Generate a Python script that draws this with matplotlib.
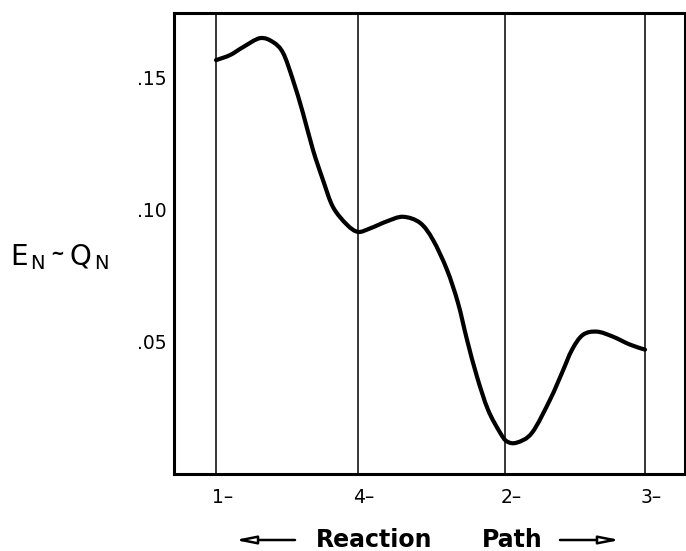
import numpy as np
import matplotlib
matplotlib.use("Agg")
import matplotlib.pyplot as plt
from matplotlib.path import Path
from matplotlib.patches import PathPatch, FancyArrowPatch

# energy curve (x in reaction-path units, 1- at 0, 3- at 3)
path_x = [0.0, 0.098, 0.189, 0.308, 0.399, 0.469, 0.538, 0.608, 0.678, 0.748,
          0.818, 0.916, 0.993, 1.077, 1.196, 1.308, 1.427, 1.517, 1.615, 1.692,
          1.755, 1.825, 1.902, 1.986, 2.035, 2.105, 2.210, 2.336, 2.420,
          2.490, 2.566, 2.664, 2.776, 2.895, 3.0]
energy = [0.1564, 0.1583, 0.1613, 0.1647, 0.1632, 0.1591, 0.1489, 0.1364, 0.1225, 0.1111,
          0.1009, 0.0942, 0.0915, 0.0928, 0.0955, 0.0972, 0.0949, 0.0885, 0.0772, 0.0647,
          0.0508, 0.0368, 0.0243, 0.0157, 0.0123, 0.0119, 0.0156, 0.0281, 0.0383,
          0.0470, 0.0526, 0.0538, 0.0519, 0.0489, 0.0470]

# configurations marked along the path
station_x = [0.0, 0.99, 2.02, 3.0]
station_labels = ["1\u2013", "4\u2013", "2\u2013", "3\u2013"]

ytick_vals = [0.05, 0.10, 0.15]
ytick_labels = [".05", ".10", ".15"]

plt.rcParams["font.family"] = "DejaVu Sans"
plt.rcParams["mathtext.fontset"] = "dejavusans"


def smooth_path(xs, ys):
    # Catmull-Rom through the read points, drawn as cubic Bezier segments
    p = np.column_stack([xs, ys])
    ext = np.vstack([p[0], p, p[-1]])
    verts = [p[0]]
    codes = [Path.MOVETO]
    for i in range(1, len(ext) - 2):
        c1 = ext[i] + (ext[i + 1] - ext[i - 1]) / 6
        c2 = ext[i + 1] - (ext[i + 2] - ext[i]) / 6
        verts += [c1, c2, ext[i + 1]]
        codes += [Path.CURVE4] * 3
    return Path(verts, codes)


fig = plt.figure(figsize=(6.86, 5.51), dpi=100)
ax = fig.add_axes([0.2536, 0.1397, 0.745, 0.8367])

for sx in station_x:
    ax.axvline(sx, color="black", lw=1.1)
ax.add_patch(PathPatch(smooth_path(path_x, energy), fill=False, ec="black",
                       lw=3.0, capstyle="round", joinstyle="round"))

ax.set_xlim(-0.294, 3.28)
ax.set_ylim(0, 0.1742)
for s in ax.spines.values():
    s.set_linewidth(2.2)

ax.set_xticks([])
ax.set_yticks(ytick_vals)
ax.set_yticklabels(ytick_labels, fontsize=13.5)
ax.tick_params(axis="y", length=0, pad=5)

for sx, lab in zip(station_x, station_labels):
    ax.annotate(lab, xy=(sx, 0), xycoords=("data", "axes fraction"),
                xytext=(-3, -21), textcoords="offset points",
                ha="left", va="baseline", fontsize=13.5)

# y-axis label, pieced together to keep the wide spacing
W, H = 686, 551
fig.text(10 / W, 1 - 265 / H, r"E$_{\,\mathrm{N}}$", fontsize=20, ha="left", va="baseline")
fig.text(50 / W, 1 - 259 / H, "~", fontsize=12, ha="left", va="baseline", fontweight="bold")
fig.text(69 / W, 1 - 265 / H, r"Q$_{\,\mathrm{N}}$", fontsize=20, ha="left", va="baseline")

# x-axis label with arrows
fig.text(374 / W, 1 - 547 / H, "Reaction", fontsize=17, fontweight="bold",
         ha="center", va="baseline")
fig.text(512 / W, 1 - 547 / H, "Path", fontsize=17, fontweight="bold",
         ha="center", va="baseline")
arrow = dict(arrowstyle="-|>,head_length=1.0,head_width=0.2", lw=1.8,
             color="black", fc="white", shrinkA=0, shrinkB=0)
fig.add_artist(FancyArrowPatch(
    (295 / W, 1 - 540 / H), (235 / W, 1 - 540 / H), transform=fig.transFigure,
    mutation_scale=12, **arrow))
fig.add_artist(FancyArrowPatch(
    (560 / W, 1 - 540 / H), (620 / W, 1 - 540 / H), transform=fig.transFigure,
    mutation_scale=12, **arrow))

fig.savefig("out.png", dpi=100)
